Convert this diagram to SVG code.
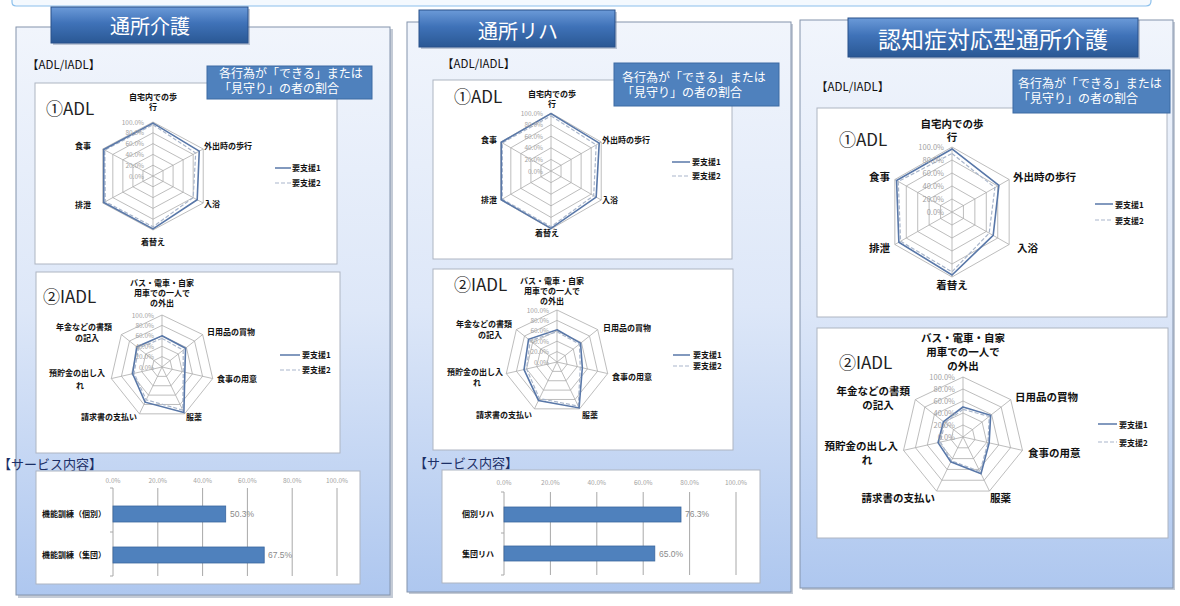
<svg xmlns="http://www.w3.org/2000/svg" width="1180" height="606" viewBox="0 0 1180 606">
<style>
text{font-family:"Noto Sans CJK JP","Noto Sans",sans-serif}
.panel{fill:url(#pg);stroke:#8494ac;stroke-width:1}
.shadow{fill:#7d8ba3;opacity:.45}
.tab{fill:url(#tg);stroke:#28508a;stroke-width:1}
.tabt{fill:#fff;text-anchor:middle}
.note{fill:#4f81bd;stroke:#3d6ba3;stroke-width:1}
.notet{fill:#fff;font-size:12px}
.box{fill:#fff;stroke:#aeb5c2;stroke-width:1}
.hdr{font-size:11.5px;fill:#111}
.svc{font-size:13px;fill:#1c2f66}
.big{font-size:17px;fill:#222}
.lab{font-size:8px;font-weight:bold;fill:#111}
.lab3{font-size:10.5px;font-weight:bold;fill:#111}
.mid{text-anchor:middle}
.end{text-anchor:end}
.tick{font-family:"Liberation Sans",sans-serif;font-size:6.5px;fill:#a3a3a3}
.tick3{font-family:"Liberation Sans",sans-serif;font-size:7.5px;fill:#a3a3a3}
.grid{fill:none;stroke:#acacac;stroke-width:.8;vector-effect:non-scaling-stroke}
.s1{fill:none;stroke:#5877a8;stroke-width:1.6;vector-effect:non-scaling-stroke}
.s2{fill:none;stroke:#a9b6cb;stroke-width:1.2;stroke-dasharray:4 2;vector-effect:non-scaling-stroke}
.l1{stroke:#5877a8;stroke-width:1.5}
.l2{stroke:#a9b6cb;stroke-width:1.2;stroke-dasharray:4 2}
.bgrid{stroke:#a8a8a8;stroke-width:1}
.bar{fill:#4f81bd;stroke:#3b679e;stroke-width:.8}
.val{font-family:"Liberation Sans",sans-serif;font-size:8.5px;fill:#8a8a8a}
</style>
<defs>
<linearGradient id="pg" x1="0" y1="0" x2="0" y2="1">
<stop offset="0" stop-color="#f1f5fc"/>
<stop offset="0.5" stop-color="#dde7f8"/>
<stop offset="1" stop-color="#aec7ef"/>
</linearGradient>
<linearGradient id="tg" x1="0" y1="0" x2="0" y2="1">
<stop offset="0" stop-color="#6b9ad8"/>
<stop offset="0.45" stop-color="#3f72b8"/>
<stop offset="1" stop-color="#2a5894"/>
</linearGradient>
<polygon id="hx" class="grid" points="0,-100 86.6,-50 86.6,50 0,100 -86.6,50 -86.6,-50"/>
<path id="hxs" class="grid" d="M0,0V-100M0,0L86.6,-50M0,0L86.6,50M0,0V100M0,0L-86.6,50M0,0L-86.6,-50"/>
<g id="hexgrid"><use href="#hx"/><use href="#hx" transform="scale(.8)"/><use href="#hx" transform="scale(.6)"/><use href="#hx" transform="scale(.4)"/><use href="#hx" transform="scale(.2)"/><use href="#hxs"/></g>
<polygon id="hp" class="grid" points="0,-100 78.18,-62.35 97.49,22.25 43.39,90.1 -43.39,90.1 -97.49,22.25 -78.18,-62.35"/>
<path id="hps" class="grid" d="M0,0V-100M0,0L78.18,-62.35M0,0L97.49,22.25M0,0L43.39,90.1M0,0L-43.39,90.1M0,0L-97.49,22.25M0,0L-78.18,-62.35"/>
<g id="heptgrid"><use href="#hp"/><use href="#hp" transform="scale(.8)"/><use href="#hp" transform="scale(.6)"/><use href="#hp" transform="scale(.4)"/><use href="#hp" transform="scale(.2)"/><use href="#hps"/></g>
</defs>

<rect width="1180" height="606" fill="#fff"/>
<g id="topband">
<path d="M12,-2V2Q12,6 16,6H1146Q1151,6 1151,1V-2Z" fill="#f4f9fe" stroke="#8cc0ec" stroke-width="1.2"/>
</g>

<!-- Panel 1 -->
<g id="panel1">
<rect class="shadow" x="18" y="29" width="375" height="569"/>
<rect class="panel" x="16" y="27" width="374" height="568"/>
<rect class="shadow" x="53" y="9" width="197" height="36"/>
<rect class="tab" x="51" y="7" width="197" height="36"/>
<text class="tabt" x="150" y="33.5" font-size="20">通所介護</text>
<text class="hdr" x="27" y="69">【ADL/IADL】</text>
</g>
<g id="p1-adl">
<rect class="box" x="35" y="83" width="302" height="181"/>
<text class="big" x="46" y="115">①ADL</text>
<g transform="translate(153,176) scale(0.58,0.54)">
<use href="#hexgrid"/>
<polygon class="s2" points="0,-95 73.6,-42.5 69.3,40 0,94 -82.3,47.5 -83.1,-48"/>
<polygon class="s1" points="0,-98 79.7,-46 76.2,44 0,98 -84.9,49 -84.9,-49"/>
</g>
<g class="tick end"><text x="144" y="124.5">100.0%</text><text x="144" y="135.3">80.0%</text><text x="144" y="146.1">60.0%</text><text x="144" y="156.9">40.0%</text><text x="144" y="167.7">20.0%</text><text x="144" y="178.5">0.0%</text></g>
<text class="lab mid" x="153" y="99.5">自宅内での歩</text>
<text class="lab mid" x="153" y="109.5">行</text>
<text class="lab" x="204" y="149">外出時の歩行</text>
<text class="lab" x="204" y="207">入浴</text>
<text class="lab mid" x="153" y="245">着替え</text>
<text class="lab end" x="91" y="208">排泄</text>
<text class="lab end" x="91" y="149">食事</text>
<line class="l1" x1="275" y1="168" x2="291" y2="168"/>
<line class="l2" x1="275" y1="183" x2="291" y2="183"/>
<text class="lab" x="292" y="171">要支援1</text>
<text class="lab" x="292" y="186">要支援2</text>
</g>
<g id="p1-note">
<rect class="note" x="207" y="66" width="165" height="33"/>
<text class="notet" x="219" y="78">各行為が「できる」または</text>
<text class="notet" x="219" y="93">「見守り」の者の割合</text>
</g>
<g id="p1-iadl">
<rect class="box" x="36" y="272" width="304" height="181"/>
<text class="big" x="43" y="303">②IADL</text>
<g transform="translate(162,367) scale(0.52)">
<use href="#heptgrid"/>
<polygon class="s2" points="0,-55 40.7,-32.4 40.9,9.3 39.9,82.9 -30.4,63.1 -53.6,12.2 -45.3,-36.2"/>
<polygon class="s1" points="0,-60 45.3,-36.2 43.9,10 42.1,87.4 -32.5,67.6 -56.5,12.9 -48.5,-38.7"/>
</g>
<g class="tick end"><text x="154" y="317.5">100.0%</text><text x="154" y="327.9">80.0%</text><text x="154" y="338.3">60.0%</text><text x="154" y="348.7">40.0%</text><text x="154" y="359.1">20.0%</text><text x="154" y="369.5">0.0%</text></g>
<text class="lab mid" x="162" y="286">バス・電車・自家</text>
<text class="lab mid" x="162" y="296">用車での一人で</text>
<text class="lab mid" x="162" y="306">の外出</text>
<text class="lab" x="207" y="335">日用品の買物</text>
<text class="lab" x="217" y="382">食事の用意</text>
<text class="lab" x="186" y="420">服薬</text>
<text class="lab end" x="137" y="420">請求書の支払い</text>
<text class="lab end" x="105" y="376">預貯金の出し入</text>
<text class="lab mid" x="80" y="389">れ</text>
<text class="lab end" x="112" y="330">年金などの書類</text>
<text class="lab mid" x="87" y="341">の記入</text>
<line class="l1" x1="280" y1="355" x2="300" y2="355"/>
<line class="l2" x1="280" y1="370" x2="300" y2="370"/>
<text class="lab" x="302" y="358">要支援1</text>
<text class="lab" x="302" y="373">要支援2</text>
</g>
<g id="p1-service">
<text class="svc" x="-2" y="469">【サービス内容】</text>
<rect class="box" x="36" y="471" width="324" height="113"/>
<g class="bgrid">
<line x1="113" y1="488" x2="113" y2="576"/><line x1="157.8" y1="488" x2="157.8" y2="576"/><line x1="202.6" y1="488" x2="202.6" y2="576"/><line x1="247.4" y1="488" x2="247.4" y2="576"/><line x1="292.2" y1="488" x2="292.2" y2="576"/><line x1="337" y1="488" x2="337" y2="576"/>
<line x1="110" y1="488" x2="113" y2="488"/><line x1="110" y1="532" x2="113" y2="532"/><line x1="110" y1="576" x2="113" y2="576"/>
</g>
<g class="tick mid"><text x="113" y="483">0.0%</text><text x="157.8" y="483">20.0%</text><text x="202.6" y="483">40.0%</text><text x="247.4" y="483">60.0%</text><text x="292.2" y="483">80.0%</text><text x="337" y="483">100.0%</text></g>
<rect class="bar" x="113" y="506" width="112.7" height="16"/>
<rect class="bar" x="113" y="547" width="151.2" height="16"/>
<text class="val" x="230" y="517">50.3%</text>
<text class="val" x="268" y="558">67.5%</text>
<text class="lab end" x="106" y="517">機能訓練（個別）</text>
<text class="lab end" x="106" y="558">機能訓練（集団）</text>
</g>

<!-- Panel 2 -->
<g id="panel2">
<rect class="shadow" x="409" y="24" width="384" height="570"/>
<rect class="panel" x="407" y="22" width="384" height="570"/>
<rect class="shadow" x="421" y="12" width="196" height="37"/>
<rect class="tab" x="419" y="10" width="196" height="37"/>
<text class="tabt" x="518" y="39" font-size="20">通所リハ</text>
<text class="hdr" x="442" y="68">【ADL/IADL】</text>
</g>
<g id="p2-adl">
<rect class="box" x="433" y="80" width="299" height="179"/>
<text class="big" x="454" y="103">①ADL</text>
<g transform="translate(551,171) scale(0.58)">
<use href="#hexgrid"/>
<polygon class="s2" points="0,-95 77.9,-45 73.6,42.5 0,96 -84,48.5 -84,-48.5"/>
<polygon class="s1" points="0,-99 83.1,-48 77.9,45 0,99 -85.7,49.5 -85.7,-49.5"/>
</g>
<g class="tick end"><text x="543" y="115.5">100.0%</text><text x="543" y="127.1">80.0%</text><text x="543" y="138.7">60.0%</text><text x="543" y="150.3">40.0%</text><text x="543" y="161.9">20.0%</text><text x="543" y="173.5">0.0%</text></g>
<text class="lab mid" x="552" y="97">自宅内での歩</text>
<text class="lab mid" x="552" y="107">行</text>
<text class="lab" x="602" y="143">外出時の歩行</text>
<text class="lab" x="602" y="203">入浴</text>
<text class="lab mid" x="547" y="236">着替え</text>
<text class="lab end" x="497" y="203">排泄</text>
<text class="lab end" x="497" y="143">食事</text>
<line class="l1" x1="672" y1="162" x2="690" y2="162"/>
<line class="l2" x1="672" y1="176" x2="690" y2="176"/>
<text class="lab" x="692" y="165">要支援1</text>
<text class="lab" x="692" y="179">要支援2</text>
</g>
<g id="p2-note">
<rect class="note" x="614" y="63" width="165" height="43"/>
<text class="notet" x="622" y="82">各行為が「できる」または</text>
<text class="notet" x="622" y="97">「見守り」の者の割合</text>
</g>
<g id="p2-iadl">
<rect class="box" x="433" y="269" width="300" height="181"/>
<text class="big" x="454" y="291">②IADL</text>
<g transform="translate(557,362) scale(0.52)">
<use href="#heptgrid"/>
<polygon class="s2" points="0,-58 43,-34.3 44.8,10.2 40.8,84.7 -33.8,70.3 -58.5,13.4 -51.6,-41.2"/>
<polygon class="s1" points="0,-62 45.3,-36.2 48.7,11.1 42.5,88.3 -35.6,73.9 -63.4,14.5 -54.7,-43.6"/>
</g>
<g class="tick end"><text x="549" y="312.5">100.0%</text><text x="549" y="322.9">80.0%</text><text x="549" y="333.3">60.0%</text><text x="549" y="343.7">40.0%</text><text x="549" y="354.1">20.0%</text><text x="549" y="364.5">0.0%</text></g>
<text class="lab mid" x="552" y="284">バス・電車・自家</text>
<text class="lab mid" x="552" y="294">用車での一人で</text>
<text class="lab mid" x="552" y="304">の外出</text>
<text class="lab" x="603" y="331">日用品の買物</text>
<text class="lab" x="612" y="380">食事の用意</text>
<text class="lab" x="582" y="418">服薬</text>
<text class="lab end" x="532" y="418">請求書の支払い</text>
<text class="lab end" x="503" y="375">預貯金の出し入</text>
<text class="lab mid" x="477" y="386">れ</text>
<text class="lab end" x="512" y="327">年金などの書類</text>
<text class="lab mid" x="490" y="338">の記入</text>
<line class="l1" x1="673" y1="355" x2="690" y2="355"/>
<line class="l2" x1="673" y1="366" x2="690" y2="366"/>
<text class="lab" x="693" y="358">要支援1</text>
<text class="lab" x="693" y="369">要支援2</text>
</g>
<g id="p2-service">
<text class="svc" x="414" y="468" font-size="12">【サービス内容】</text>
<rect class="box" x="442" y="470" width="318" height="113"/>
<g class="bgrid">
<line x1="504" y1="492" x2="504" y2="575"/><line x1="550.4" y1="492" x2="550.4" y2="575"/><line x1="596.8" y1="492" x2="596.8" y2="575"/><line x1="643.2" y1="492" x2="643.2" y2="575"/><line x1="689.6" y1="492" x2="689.6" y2="575"/><line x1="736" y1="492" x2="736" y2="575"/>
<line x1="501" y1="492" x2="504" y2="492"/><line x1="501" y1="533" x2="504" y2="533"/><line x1="501" y1="575" x2="504" y2="575"/>
</g>
<g class="tick mid"><text x="504" y="485">0.0%</text><text x="550.4" y="485">20.0%</text><text x="596.8" y="485">40.0%</text><text x="643.2" y="485">60.0%</text><text x="689.6" y="485">80.0%</text><text x="736" y="485">100.0%</text></g>
<rect class="bar" x="504" y="507" width="177" height="15"/>
<rect class="bar" x="504" y="546" width="150.8" height="15"/>
<text class="val" x="685" y="517">76.3%</text>
<text class="val" x="659" y="557">65.0%</text>
<text class="lab end" x="494" y="517">個別リハ</text>
<text class="lab end" x="494" y="557">集団リハ</text>
</g>

<!-- Panel 3 -->
<g id="panel3">
<rect class="shadow" x="802" y="22" width="373" height="568"/>
<rect class="panel" x="800" y="20" width="373" height="568"/>
<rect class="shadow" x="850" y="20" width="290" height="39"/>
<rect class="tab" x="848" y="18" width="290" height="39"/>
<text class="tabt" x="993" y="48" font-size="23">認知症対応型通所介護</text>
<text class="hdr" x="816" y="91" font-size="12">【ADL/IADL】</text>
</g>
<g id="p3-adl">
<rect class="box" x="817" y="108" width="350" height="209"/>
<text class="big" x="839" y="146" font-size="18">①ADL</text>
<g transform="translate(952,212) scale(0.66,0.65)">
<use href="#hexgrid"/>
<polygon class="s2" points="0,-90 65,-37.5 56.3,32.5 0,92 -77.9,45 -81.4,-47"/>
<polygon class="s1" points="0,-97 71,-41 62.4,36 0,97 -80.5,46.5 -84,-48.5"/>
</g>
<g class="tick3 end"><text x="944" y="149.5">100.0%</text><text x="944" y="162.5">80.0%</text><text x="944" y="175.5">60.0%</text><text x="944" y="188.5">40.0%</text><text x="944" y="201.5">20.0%</text><text x="944" y="214.5">0.0%</text></g>
<text class="lab3 mid" x="952" y="127.5">自宅内での歩</text>
<text class="lab3 mid" x="952" y="141">行</text>
<text class="lab3" x="1013" y="181">外出時の歩行</text>
<text class="lab3" x="1017" y="252">入浴</text>
<text class="lab3 mid" x="952" y="289">着替え</text>
<text class="lab3 end" x="890" y="252">排泄</text>
<text class="lab3 end" x="890" y="181">食事</text>
<line class="l1" x1="1095" y1="204" x2="1113" y2="204"/>
<line class="l2" x1="1095" y1="220" x2="1113" y2="220"/>
<text class="lab" x="1115" y="207.5" font-size="9">要支援1</text>
<text class="lab" x="1115" y="223.5" font-size="9">要支援2</text>
</g>
<g id="p3-note">
<rect class="note" x="1013" y="70" width="157" height="43"/>
<text class="notet" x="1018" y="88" font-size="11.5">各行為が「できる」または</text>
<text class="notet" x="1018" y="103" font-size="11.5">「見守り」の者の割合</text>
</g>
<g id="p3-iadl">
<rect class="box" x="817" y="328" width="351" height="210"/>
<text class="big" x="839" y="369" font-size="18">②IADL</text>
<g transform="translate(963,437) scale(0.61,0.6)">
<use href="#heptgrid"/>
<polygon class="s2" points="0,-46 43,-34.3 40.9,9.3 27.8,57.7 -19.1,39.6 -37,8.5 -29.7,-23.7"/>
<polygon class="s1" points="0,-50 45.3,-36.2 42.9,9.8 29.5,61.3 -20,41.4 -40.9,9.3 -32.1,-25.6"/>
</g>
<g class="tick3 end"><text x="955" y="379.5">100.0%</text><text x="955" y="391.5">80.0%</text><text x="955" y="403.5">60.0%</text><text x="955" y="415.5">40.0%</text><text x="955" y="427.5">20.0%</text><text x="955" y="439.5">0.0%</text></g>
<text class="lab3 mid" x="963" y="342">バス・電車・自家</text>
<text class="lab3 mid" x="963" y="356">用車での一人で</text>
<text class="lab3 mid" x="963" y="370">の外出</text>
<text class="lab3" x="1015" y="401">日用品の買物</text>
<text class="lab3" x="1028" y="457">食事の用意</text>
<text class="lab3" x="990" y="502">服薬</text>
<text class="lab3 end" x="935" y="502">請求書の支払い</text>
<text class="lab3 end" x="898" y="450">預貯金の出し入</text>
<text class="lab3 mid" x="867" y="464">れ</text>
<text class="lab3 end" x="910" y="394.5">年金などの書類</text>
<text class="lab3 mid" x="878" y="408.5">の記入</text>
<line class="l1" x1="1098" y1="424" x2="1117" y2="424"/>
<line class="l2" x1="1098" y1="442" x2="1117" y2="442"/>
<text class="lab" x="1119" y="427.5" font-size="9">要支援1</text>
<text class="lab" x="1119" y="445.5" font-size="9">要支援2</text>
</g>
</svg>
